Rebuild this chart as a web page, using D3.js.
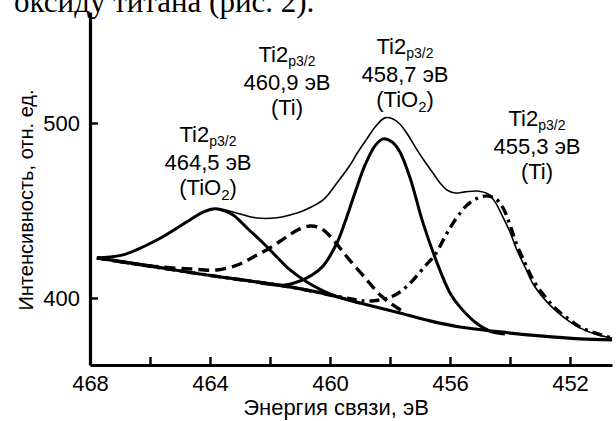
<!DOCTYPE html>
<html><head><meta charset="utf-8">
<script src="https://cdn.jsdelivr.net/npm/d3@7"></script>
<style>
html,body{margin:0;padding:0;background:#fff;}
svg text{font-family:"Liberation Sans",Arial,sans-serif;fill:#000;}
</style></head>
<body><svg id="c" width="616" height="421"></svg>
<script>
// ---- data (binding energy, eV ; intensity, arb. units) ----
const xTicks = [468,466,464,462,460,458,456,454,452];
const xTickLabels = [468,464,460,456,452];
const yTicks = [400,500];

const background = [[467.77,422.9],[466.00,418.3],[464.33,413.7],[462.67,409.7],[461.33,406.3],[460.00,401.7],[459.00,397.1],[457.67,391.4],[456.67,386.9],[455.67,383.4],[454.33,380.6],[453.00,378.3],[451.67,376.6],[450.60,376.0]];

const envelope = [[467.77,422.9],[466.90,424.6],[465.77,433.1],[464.67,444.6],[464.23,449.1],[463.90,450.9],[463.50,450.3],[463.00,448.0],[462.43,445.7],[461.83,445.7],[461.33,447.4],[460.83,450.3],[460.23,456.0],[459.77,465.7],[459.33,476.0],[459.07,483.4],[458.77,490.9],[458.47,498.3],[458.17,502.9],[457.90,502.3],[457.67,499.4],[457.40,493.1],[457.10,484.6],[456.83,477.7],[456.57,471.4],[456.33,465.7],[456.10,461.7],[455.83,460.0],[455.50,460.6],[455.10,461.1],[454.73,459.4],[454.50,454.9],[454.27,447.4],[454.00,437.7],[453.77,427.4],[453.50,417.7],[453.23,408.0],[452.83,398.9],[452.43,392.0],[452.00,386.3],[451.67,382.9],[451.17,379.4],[450.60,377.1]];

const peakTiO2_4645 = [[467.77,422.9],[466.90,424.6],[465.77,433.1],[464.67,444.6],[464.23,449.1],[463.90,450.9],[463.60,450.3],[463.23,447.4],[462.73,439.4],[462.23,431.4],[461.77,423.4],[461.33,416.0],[460.77,409.1],[460.00,402.3],[459.00,397.1]];

const peakTi_4609 = [[467.77,422.9],[466.00,418.3],[464.67,416.6],[463.77,416.0],[463.00,419.4],[462.50,424.0],[462.00,428.6],[461.50,434.3],[461.07,438.9],[460.67,441.1],[460.33,440.0],[460.00,435.4],[459.43,423.4],[458.77,410.3],[458.33,401.7],[457.90,396.0],[457.50,391.4]];

const peakTiO2_4587 = [[462.33,408.6],[461.50,407.4],[461.00,409.7],[460.60,413.1],[460.23,418.3],[459.77,431.4],[459.50,443.4],[459.17,460.0],[458.83,476.0],[458.50,486.9],[458.23,490.9],[457.93,489.1],[457.67,483.4],[457.33,468.6],[456.90,442.9],[456.43,420.0],[456.00,402.9],[455.67,394.9],[455.17,386.3],[454.67,381.1],[454.17,379.4]];

const peakTi_4553 = [[467.77,422.9],[464.33,413.7],[461.33,406.3],[459.67,400.6],[458.83,398.3],[458.33,398.9],[457.90,401.1],[457.50,405.7],[457.17,411.4],[456.77,419.4],[456.50,424.6],[456.17,434.9],[455.83,444.6],[455.43,453.1],[455.07,457.1],[454.73,458.3],[454.47,456.6],[454.23,451.4],[454.00,441.7],[453.77,430.3],[453.50,420.0],[453.23,410.3],[452.83,400.6],[452.43,393.1],[452.00,387.4],[451.67,383.4],[451.17,380.0],[450.60,377.1]];

const labelEnergies = ["460,9 эВ","464,5 эВ","458,7 эВ","455,3 эВ"];
const labelPhases = ["Ti","TiO2","TiO2","Ti"];

// ---- drawing ----
const svg = d3.select("#c");
const x = d3.scaleLinear().domain([468, 450.6]).range([90, 612]);
const y = d3.scaleLinear().domain([361.7, 563.4]).range([365, 12]);

// caption fragment at top (cut off in the source scan)
svg.append("text").attr("x",14).attr("y",12)
  .style("font-family","'Liberation Serif','Times New Roman',serif")
  .style("font-size","31px").text("оксиду титана (рис. 2).");

const line = d3.line().x(d=>x(d[0])).y(d=>y(d[1])).curve(d3.curveCatmullRom.alpha(0.5));

const g = svg.append("g");
g.append("path").datum(background).attr("d",line).attr("fill","none").attr("stroke","#000").attr("stroke-width",3.2);
g.append("path").datum(peakTiO2_4645).attr("d",line).attr("fill","none").attr("stroke","#000").attr("stroke-width",3);
g.append("path").datum(peakTiO2_4587).attr("d",line).attr("fill","none").attr("stroke","#000").attr("stroke-width",3);
g.append("path").datum(peakTi_4609).attr("d",line).attr("fill","none").attr("stroke","#000").attr("stroke-width",3.4).attr("stroke-dasharray","11,6");
g.append("path").datum(peakTi_4553).attr("d",line).attr("fill","none").attr("stroke","#000").attr("stroke-width",3.4).attr("stroke-dasharray","10,5,3,5");
g.append("path").datum(envelope).attr("d",line).attr("fill","none").attr("stroke","#000").attr("stroke-width",1.6);

// axes
const xAxis = d3.axisBottom(x).tickValues(xTicks).tickSize(-8).tickSizeOuter(0).tickPadding(10)
  .tickFormat(d => xTickLabels.includes(d) ? d : "");
const ax = svg.append("g").attr("transform","translate(0,365)").call(xAxis);
const yAxis = d3.axisLeft(y).tickValues(yTicks).tickSize(-8).tickSizeOuter(0).tickPadding(10);
const ay = svg.append("g").attr("transform","translate(90,0)").call(yAxis);
[ax,ay].forEach(a=>{
  a.select(".domain").attr("stroke","#000").attr("stroke-width",3.2);
  a.selectAll(".tick line").attr("stroke","#000").attr("stroke-width",2.4);
  a.selectAll(".tick text").style("font-size","22px").attr("fill","#000")
   .style("font-family","'Liberation Sans',Arial,sans-serif");
});

svg.append("text").attr("x",336).attr("y",415).attr("text-anchor","middle")
  .style("font-size","22px").text("Энергия связи, эВ");
svg.append("text").attr("transform","translate(33,200) rotate(-90)").attr("text-anchor","middle")
  .style("font-size","20px").text("Интенсивность, отн. ед.");

// annotations
const annX = [287,208,405,537];
const annY = [62,142,54,126];
labelEnergies.forEach((e,i)=>{
  const t = svg.append("g").attr("transform",`translate(${annX[i]},${annY[i]})`);
  const l1 = t.append("text").attr("text-anchor","middle").style("font-size","22px");
  l1.append("tspan").text("Ti2");
  l1.append("tspan").attr("dy",4).style("font-size","14px").text("p3/2");
  t.append("text").attr("y",28).attr("text-anchor","middle").style("font-size","22px").text(e);
  const l3 = t.append("text").attr("y",53).attr("text-anchor","middle").style("font-size","22px");
  const ph = labelPhases[i];
  if (ph === "TiO2") {
    l3.append("tspan").text("(TiO");
    l3.append("tspan").attr("dy",5).style("font-size","15px").text("2");
    l3.append("tspan").attr("dy",-5).text(")");
  } else {
    l3.text("(" + ph + ")");
  }
});
</script></body></html>
